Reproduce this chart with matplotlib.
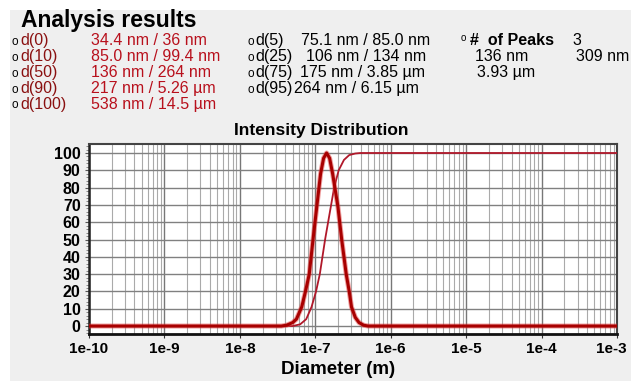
import numpy as np
import matplotlib
matplotlib.use("Agg")
import matplotlib.pyplot as plt
from matplotlib.patches import Rectangle
from matplotlib.ticker import LogLocator, MultipleLocator, FixedLocator
from matplotlib.transforms import ScaledTranslation

plt.rcParams['font.family'] = ['Liberation Sans', 'DejaVu Sans']

# ---------------- data ----------------
# intensity distribution: log10(diameter in m) and %
dist_logd = [-10, -7.45, -7.38, -7.30, -7.25, -7.18, -7.13, -7.08, -7.03, -6.98,
             -6.93, -6.89, -6.85, -6.81, -6.77, -6.70, -6.65, -6.59, -6.55, -6.52,
             -6.47, -6.42, -6.36, -6.30, -3]
dist_val = [0, 0, 0.5, 2, 4, 11, 20, 30, 50, 69,
            88, 97, 100, 97, 88, 69, 50, 30, 20, 11,
            5, 2, 0.5, 0, 0]
# cumulative curve
cum_logd = [-10, -7.30, -7.20, -7.12, -7.05, -6.99, -6.94, -6.87, -6.81, -6.75,
            -6.69, -6.62, -6.55, -6.47, -6.40, -3]
cum_val = [0, 0, 1, 4, 11, 20, 30, 50, 65, 80,
           90, 96, 98.8, 99.7, 100, 100]

xtick_vals = [1e-10, 1e-9, 1e-8, 1e-7, 1e-6, 1e-5, 1e-4, 1e-3]
xtick_labels = ['1e-10', '1e-9', '1e-8', '1e-7', '1e-6', '1e-5', '1e-4', '1e-3']
ytick_vals = [0, 10, 20, 30, 40, 50, 60, 70, 80, 90, 100]

left_labels = ['d(0)', 'd(10)', 'd(50)', 'd(90)', 'd(100)']
left_values = ['34.4 nm / 36 nm', '85.0 nm / 99.4 nm', '136 nm / 264 nm',
               '217 nm / 5.26 µm', '538 nm / 14.5 µm']
mid_labels = ['d(5)', 'd(25)', 'd(75)', 'd(95)']
mid_values = ['75.1 nm / 85.0 nm', '106 nm / 134 nm', '175 nm / 3.85 µm',
              '264 nm / 6.15 µm']
peaks_count = '3'
peak_values = ['136 nm', '309 nm', '3.93 µm']

# ---------------- figure ----------------
W, H = 631, 381
fig = plt.figure(figsize=(W / 100, H / 100), dpi=100)
fig.patch.set_facecolor('white')
fig.patches.append(Rectangle((10 / W, 0), 1 - 10 / W, 1 - 10 / H,
                             transform=fig.transFigure, facecolor='#efefef',
                             edgecolor='none', zorder=-10))

def fx(px):
    return px / W

def fy(py):
    return 1 - py / H

fig.text(fx(21), fy(20.5), 'Analysis results', fontsize=16.5, fontweight='bold',
         va='center', ha='left', color='black')

FS = 11.5
row_y = [40.7, 56.7, 72.7, 88.7, 104.5]
lab_col = '#8a1010'
val_col = '#b8101c'
for i, (lab, val) in enumerate(zip(left_labels, left_values)):
    fig.text(fx(11), fy(row_y[i] + 1), 'o', fontsize=8.5, va='center', ha='left', color='black')
    fig.text(fx(20), fy(row_y[i]), lab, fontsize=FS, va='center', ha='left', color=lab_col)
    fig.text(fx(91), fy(row_y[i]), val, fontsize=FS, va='center', ha='left', color=val_col)

mid_val_x = [301, 306, 300, 294]
for i, (lab, val) in enumerate(zip(mid_labels, mid_values)):
    fig.text(fx(248), fy(row_y[i] + 1), 'o', fontsize=8.5, va='center', ha='left', color='black')
    fig.text(fx(255), fy(row_y[i]), lab, fontsize=FS, va='center', ha='left', color='black')
    fig.text(fx(mid_val_x[i]), fy(row_y[i]), val, fontsize=FS, va='center', ha='left', color='black')

fig.text(fx(461), fy(row_y[0] - 3), 'o', fontsize=7, va='center', ha='left', color='black')
fig.text(fx(470), fy(row_y[0]), '#  of Peaks', fontsize=FS, fontweight='bold',
         va='center', ha='left', color='black')
fig.text(fx(572), fy(row_y[0]), peaks_count, fontsize=FS, va='center', ha='left', color='black')
fig.text(fx(475), fy(row_y[1]), peak_values[0], fontsize=FS, va='center', ha='left', color='black')
fig.text(fx(576), fy(row_y[1]), peak_values[1], fontsize=FS, va='center', ha='left', color='black')
fig.text(fx(477), fy(row_y[2]), peak_values[2], fontsize=FS, va='center', ha='left', color='black')

# ---------------- axes ----------------
ax = fig.add_axes([fx(89), fy(334), fx(617) - fx(89), fy(144) - fy(334)])
ax.set_facecolor('white')
ax.set_xscale('log')
ax.set_xlim(1e-10, 1e-3)
ax.set_ylim(-4.6, 105.2)

ax.xaxis.set_major_locator(FixedLocator(xtick_vals))
ax.set_xticks(xtick_vals)
ax.set_xticklabels(xtick_labels)
ax.xaxis.set_minor_locator(LogLocator(base=10, subs=np.arange(2, 10), numticks=100))
ax.set_yticks(ytick_vals)
ax.yaxis.set_minor_locator(MultipleLocator(2))

ax.grid(True, which='major', axis='x', color='#777777', lw=1.0)
ax.grid(True, which='minor', axis='x', color='#aaaaaa', lw=0.8)
ax.grid(True, which='major', axis='y', color='#808080', lw=1.0)
ax.set_axisbelow(True)

for lab in ax.get_xticklabels() + ax.get_yticklabels():
    lab.set_fontweight('bold')
ax.tick_params(axis='x', which='major', labelsize=11, length=3, color='#333333', pad=3)
ax.tick_params(axis='x', which='minor', length=0)
ax.tick_params(axis='y', which='major', labelsize=11.5, length=3, color='#555555', pad=3)
ax.tick_params(axis='y', which='minor', length=2, color='#777777')

# nudge the last x tick label inward so it stays inside the figure
last = ax.get_xticklabels()[-1]
last.set_transform(last.get_transform() + ScaledTranslation(-6 / 100, 0, fig.dpi_scale_trans))

for s in ['top', 'right']:
    ax.spines[s].set_color('#444444')
    ax.spines[s].set_linewidth(1.5)
ax.spines['left'].set_color('#222222')
ax.spines['left'].set_linewidth(1.8)
ax.spines['bottom'].set_color('#111111')
ax.spines['bottom'].set_linewidth(2.0)

dist_d = [10 ** v for v in dist_logd]
cum_d = [10 ** v for v in cum_logd]
ax.plot(cum_d, cum_val, color='#b0182a', lw=1.3, zorder=3)
ax.plot(dist_d, dist_val, color='#e04040', lw=3.6, alpha=0.5, zorder=4,
        solid_capstyle='butt')
ax.plot(dist_d, dist_val, color='#a80000', lw=2.2, zorder=5)

fig.text(fx(321), fy(131), 'Intensity Distribution', fontsize=12.5, fontweight='bold',
         ha='center', va='center', color='black')
fig.text(fx(338), fy(370), 'Diameter (m)', fontsize=13.5, fontweight='bold',
         ha='center', va='center', color='black')

fig.savefig('out.png', dpi=100, facecolor=fig.get_facecolor())
